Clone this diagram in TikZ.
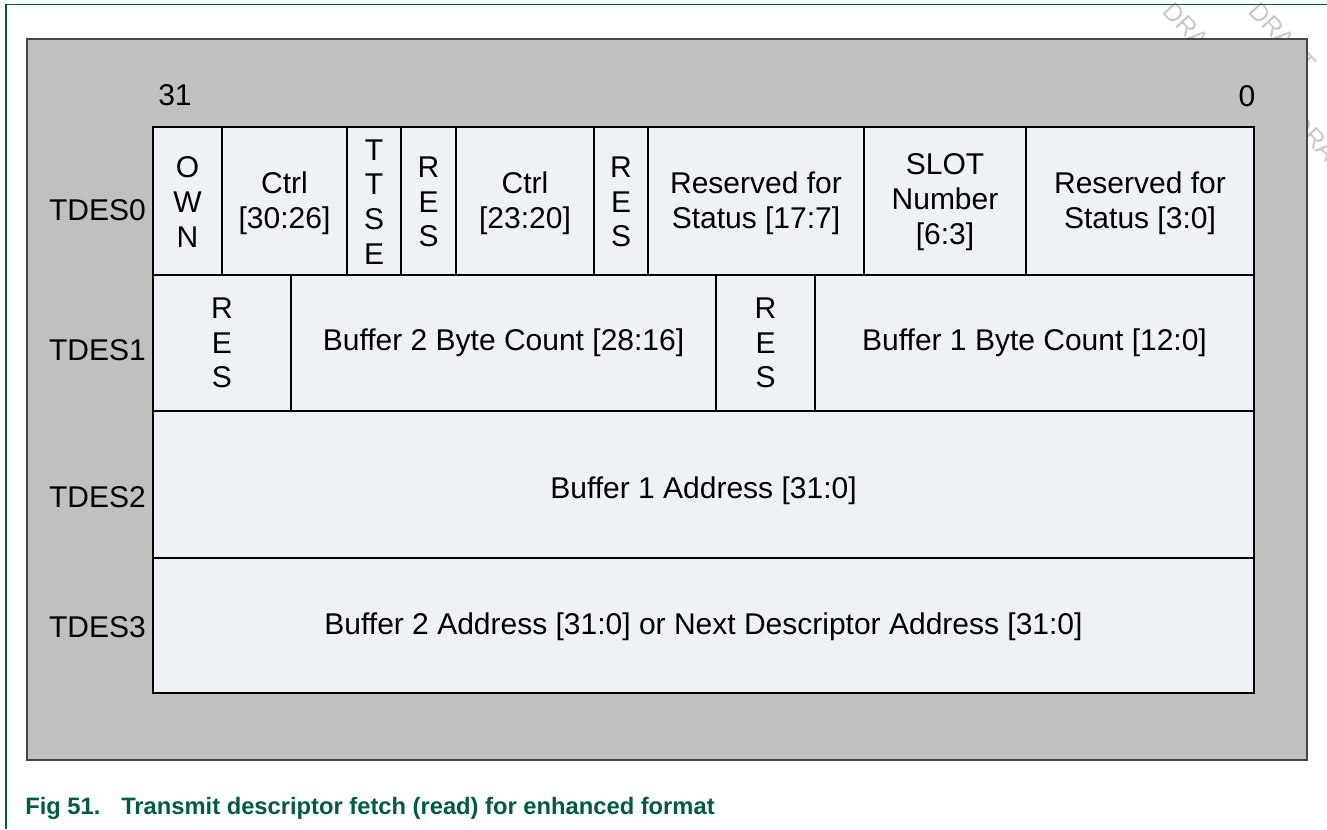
\documentclass[tikz,border=0pt]{standalone}
\usepackage{fontspec}
\setmainfont{Liberation Sans}
\definecolor{boxgray}{RGB}{192,192,192}
\definecolor{boxline}{RGB}{70,70,70}
\definecolor{cellfill}{RGB}{238,241,246}
\definecolor{nxpgreen}{RGB}{0,90,68}
\definecolor{wmgray}{RGB}{200,200,200}
\tikzset{
  cell/.style={draw=black, line width=2pt, fill=cellfill},
  txt/.style={font=\fontsize{22.5}{26}\selectfont, align=center, inner sep=0pt},
  rowlbl/.style={font=\fontsize{22.5}{26}\selectfont, anchor=east, inner sep=0pt},
  wm/.style={font=\fontsize{19}{19}\selectfont, text=wmgray, rotate=-47, anchor=west, inner sep=0pt},
  capstyle/.style={font=\bfseries\fontsize{17.8}{20}\selectfont, text=nxpgreen, anchor=base west, inner sep=0pt},
}
\begin{document}
\begin{tikzpicture}[x=0.75pt,y=-0.75pt]
\useasboundingbox (0,0) rectangle (1327,829);
% watermark (behind)
\begin{scope}
\clip (0,0) rectangle (1327,829);
\node[wm] (wm1) at (1168,6) {DRAFT};
\node[wm] (wm2) at (1254,6) {DRAFT};
\node[wm] (wm3) at (1296,118) {DRAFT};
\end{scope}
% page frame
\draw[nxpgreen, line width=1.1pt] (6,829) -- (6,4.5) -- (1327,4.5);
% grey background box
\draw[draw=boxline, line width=1.1pt, fill=boxgray] (27,39) rectangle (1307,760);
% bit numbers
\node[txt] (b31) at (175,95) {31};
\node[txt] (b0) at (1247,96) {0};
% row labels
\node[rowlbl] (l0) at (146,210) {TDES0};
\node[rowlbl] (l1) at (146,350) {TDES1};
\node[rowlbl] (l2) at (146,497) {TDES2};
\node[rowlbl] (l3) at (146,627) {TDES3};
% row 0
\draw[cell] (153,127) rectangle (222,275);
\draw[cell] (222,127) rectangle (347,275);
\draw[cell] (347,127) rectangle (401,275);
\draw[cell] (401,127) rectangle (456,275);
\draw[cell] (456,127) rectangle (594,275);
\draw[cell] (594,127) rectangle (648,275);
\draw[cell] (648,127) rectangle (864,275);
\draw[cell] (864,127) rectangle (1026,275);
\draw[cell] (1026,127) rectangle (1254,275);
% row 1
\draw[cell] (153,275) rectangle (291,411);
\draw[cell] (291,275) rectangle (716,411);
\draw[cell] (716,275) rectangle (815,411);
\draw[cell] (815,275) rectangle (1254,411);
% row 2, 3
\draw[cell] (153,411) rectangle (1254,558);
\draw[cell] (153,558) rectangle (1254,693);
% row 0 texts
\node[txt] (own) at (187.5,202) {O\\W\\N};
\node[txt] (ctrla) at (284.5,203) {Ctrl\\{[30:26]}};
\node[txt] (ttse) at (374,202) {T\\T\\S\\E};
\node[txt] (resa) at (428.5,202) {R\\E\\S};
\node[txt] (ctrlb) at (525,203) {Ctrl\\{[23:20]}};
\node[txt] (resb) at (621,202) {R\\E\\S};
\node[txt] (rsva) at (756,203) {Reserved for\\Status [17:7]};
\node[txt] (slot) at (945,202) {SLOT\\Number\\{[6:3]}};
\node[txt] (rsvb) at (1140,203) {Reserved for\\Status [3:0]};
% row 1 texts
\node[txt] (resc) at (222,343) {R\\E\\S};
\node[txt] (b2bc) at (503.5,343) {Buffer 2 Byte Count [28:16]};
\node[txt] (resd) at (765.5,343) {R\\E\\S};
\node[txt] (b1bc) at (1034.5,343) {Buffer 1 Byte Count [12:0]};
% row 2, 3 texts
\node[txt] (b1ad) at (703.5,491) {Buffer 1 Address [31:0]};
\node[txt] (b2ad) at (703.5,627) {Buffer 2 Address [31:0] or Next Descriptor Address [31:0]};
% caption
\node[capstyle] (capnum) at (25,814) {Fig 51.};
\node[capstyle] (captxt) at (121,814) {Transmit descriptor fetch (read) for enhanced format};
\end{tikzpicture}
\end{document}
